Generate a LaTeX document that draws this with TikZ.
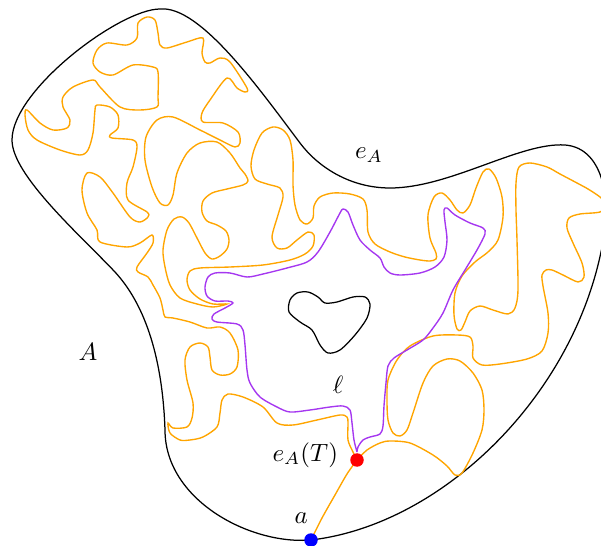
\documentclass[tikz,border=0pt]{standalone}
\usepackage{amsmath,amssymb}
\usepackage{xcolor}
\usepackage{tikz}
\usetikzlibrary{positioning}
\definecolor{walkorange}{RGB}{255,165,0}
\definecolor{loopviolet}{RGB}{165,55,240}

\begin{document}
\begin{tikzpicture}[
    x=0.4pt, y=-0.4pt,
    domainline/.style={draw=black, line width=0.5pt},
    walkline/.style={draw=walkorange, line width=0.55pt},
    loopline/.style={draw=loopviolet, line width=0.55pt},
    dotnode/.style={circle, inner sep=0pt, minimum size=5.4pt},
    labelnode/.style={inner sep=1pt}
]
\useasboundingbox (0,0) rectangle (601,546);
\clip (0,0) rectangle (601,546);

\coordinate (a) at (311,540);
\coordinate (eAT) at (357,460);

\draw[domainline] (a) .. controls (440,525) and (570,400) .. (601,252)
    .. controls (613,205) and (605,148) .. (565,145)
    .. controls (520,142) and (450,188) .. (390,188)
    .. controls (350,188) and (318,167) .. (300,143)
    .. controls (260,90) and (200,5) .. (160,9)
    .. controls (120,9) and (12,90) .. (12,140)
    .. controls (12,175) and (80,235) .. (115,272)
    .. controls (150,310) and (163,370) .. (165,430)
    .. controls (165,500) and (250,545) .. cycle;

\draw[domainline] plot[smooth cycle] coordinates {(290,300) (297,293) (308,292) (318,297) (325,303) (337,302) (353,297) (365,297) (370,304) (367,318) (355,335) (340,350) (328,353) (320,345) (312,330) (300,322) (289,312)};

\draw[walkline] plot[smooth] coordinates {(a) (322,518) (335,495) (347,474) (eAT)};
\draw[walkline] plot[smooth] coordinates {(eAT) (367,450) (380,443) (390,441) (410,443) (433,455) (447,466) (455,475) (462,473) (473,453) (482,430) (484,410) (482,390) (473,373) (460,361) (447,359) (433,366) (423,383) (413,413) (407,430) (400,436) (393,433) (388,420) (387,400) (388,380) (397,360) (410,346) (433,336) (457,335) (470,337) (473,346) (473,358) (482,365) (500,364) (527,359) (542,351) (548,333) (548,313) (543,286) (542,275) (546,270) (552,270) (563,275) (578,282) (584,277) (582,263) (573,243) (567,228) (569,218) (580,214) (600,212) (607,205) (600,197) (588,189) (577,183) (560,174) (547,167) (530,163) (519,167) (516,183) (516,210) (517,240) (518,290) (515,308) (508,314) (493,310) (480,306) (470,311) (465,322) (461,330) (457,329) (454,315) (455,293) (462,276) (475,262) (488,252) (498,240) (503,217) (502,197) (496,178) (489,169) (483,172) (476,188) (470,205) (463,213) (457,210) (450,200) (442,193) (434,197) (428,215) (430,238) (436,253) (436,259) (430,261) (420,260) (405,257) (390,252) (375,244) (368,232) (367,210) (363,199) (350,194) (333,193) (320,197) (314,206) (313,218) (307,224) (300,220) (295,205) (293,185) (293,160) (290,140) (283,130) (273,127) (262,133) (254,150) (251,166) (255,179) (267,184) (280,188) (283,197) (278,215) (272,237) (277,248) (287,248) (297,240) (308,232) (314,235) (313,246) (305,254) (290,260) (263,265) (230,267) (200,268) (190,271) (187,280) (190,290) (200,299) (213,304) (227,304) (213,307) (197,304) (180,298) (170,285) (165,267) (163,250) (167,230) (174,219) (182,217) (189,223) (197,238) (205,253) (212,259) (220,256) (227,249) (229,240) (226,231) (217,225) (207,221) (202,212) (203,201) (212,193) (227,189) (243,185) (248,181) (245,174) (240,168) (230,153) (217,142) (200,143) (187,153) (177,173) (173,195) (168,205) (160,203) (152,187) (145,160) (146,137) (157,120) (173,117) (200,130) (220,140) (235,147) (240,143) (238,132) (223,123) (203,122) (202,113) (210,100) (227,78) (237,88) (245,92) (247,88) (230,62) (220,58) (210,63) (205,62) (202,53) (203,38) (187,42) (167,48) (160,45) (158,33) (155,20) (147,17) (138,23) (137,38) (127,45) (107,43) (97,50) (93,63) (100,72) (113,75) (133,65) (153,67) (158,72) (158,97) (157,107) (140,110) (120,107) (100,87) (93,80) (73,87) (63,97) (63,107) (70,120) (67,128) (53,130) (40,123) (27,110) (25,115) (28,130) (37,140) (60,150) (80,155) (88,150) (93,133) (95,110) (97,105) (110,107) (118,115) (118,128) (110,135) (112,138) (133,140) (137,147) (133,167) (127,183) (128,200) (147,212) (148,217) (140,222) (130,217) (113,193) (100,177) (87,173) (82,190) (87,213) (97,230) (100,242) (127,247) (140,243) (152,235) (153,243) (147,253) (137,267) (138,272) (148,277) (153,285) (160,298) (163,310) (165,317) (173,318) (190,322) (207,328) (220,327) (230,333) (238,350) (237,367) (230,374) (220,375) (212,370) (210,357) (208,347) (200,343) (190,347) (185,360) (187,380) (193,403) (192,418) (187,427) (173,428) (168,423) (170,433) (180,440) (190,440) (203,437) (217,427) (220,413) (222,400) (228,394) (243,397) (263,407) (277,423) (293,425) (317,420) (340,415) (347,417) (348,423) (348,440) (353,452) (eAT)};

\draw[loopline] plot[smooth] coordinates {(357,452) (354,440) (352,423) (350,410) (343,406) (330,407) (310,410) (290,412) (277,407) (260,397) (250,383) (247,370) (245,345) (243,330) (237,324) (217,322) (212,319) (214,314) (225,308) (233,303) (228,301) (215,301) (207,296) (205,287) (208,277) (215,273) (230,273) (247,277) (263,274) (287,268) (307,262) (318,252) (330,232) (340,213) (343,209) (348,212) (353,225) (360,240) (370,250) (380,258) (384,267) (390,273) (400,275) (420,273) (435,267) (444,257) (447,240) (445,222) (444,210) (447,208) (455,215) (470,223) (483,228) (485,234) (477,250) (465,270) (453,290) (443,313) (433,328) (423,340) (407,350) (394,358) (388,366) (386,383) (384,406) (383,426) (380,434) (370,437) (363,440) (358,447) (357,452)};

\node[dotnode, fill=blue] (adot) at (a) {};
\node[dotnode, fill=red] (eATdot) at (eAT) {};

\node[labelnode, above left=3.5pt and -2pt of adot] (alabel) {$a$};
\node[labelnode, left=3.5pt of eATdot, yshift=2pt] (eATlabel) {$e_A(T)$};
\node[labelnode] (Alabel) at (88,352) {$A$};
\node[labelnode] (eAlabel) at (369,155) {$e_A$};
\node[labelnode] (elllabel) at (338,385) {$\ell$};

\end{tikzpicture}
\end{document}
